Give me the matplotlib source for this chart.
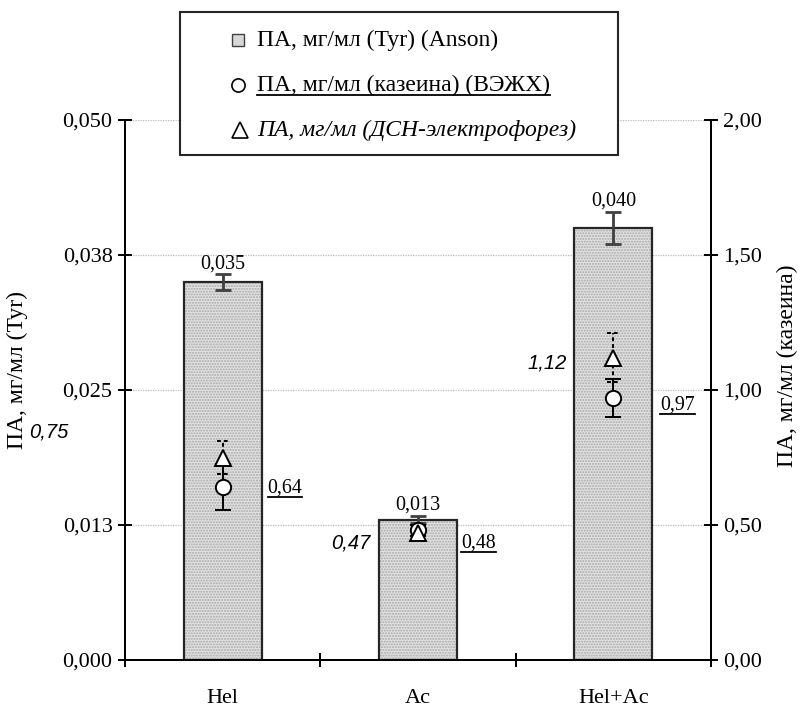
import matplotlib
matplotlib.use("Agg")
import matplotlib.pyplot as plt
from matplotlib.patches import Rectangle
from matplotlib.lines import Line2D
from matplotlib.ticker import FixedLocator, FixedFormatter, FuncFormatter

# ---- data ----
categories = ["Hel", "Ac", "Hel+Ac"]
tyr_values = [0.035, 0.013, 0.040]          # ПА, мг/мл (Tyr) (Anson)
tyr_errors = [0.0007, 0.0003, 0.0015]
casein_values = [0.64, 0.48, 0.97]          # ПА, мг/мл (казеина) (ВЭЖХ)
casein_errors = [0.085, 0.02, 0.07]
sds_values = [0.75, 0.47, 1.12]             # ПА, мг/мл (ДСН-электрофорез)
sds_errors = [0.06, 0.02, 0.09]
left_ticks = [0.0, 0.0125, 0.025, 0.0375, 0.05]
left_tick_labels = ["0,000", "0,013", "0,025", "0,038", "0,050"]
right_ticks = [0.0, 0.5, 1.0, 1.5, 2.0]

SERIF = ["Liberation Serif", "DejaVu Serif"]
SANS = ["Liberation Sans", "DejaVu Sans"]
plt.rcParams["font.family"] = SERIF

W, H = 806, 709
fig = plt.figure(figsize=(W / 100, H / 100), dpi=100)
L, R, B, T = 125, 711, 660, 120
ax = fig.add_axes([L / W, 1 - B / H, (R - L) / W, (B - T) / H])
ax2 = ax.twinx()

x = [i + 0.5 for i in range(len(categories))]
bw = 0.4

# bars: dotted grey fill + dark outline
ax.bar(x, tyr_values, width=bw, color="#e2e2e2", hatch="......",
       edgecolor="#a8a8a8", linewidth=0, zorder=2)
ax.bar(x, tyr_values, width=bw, fill=False, edgecolor="#262626",
       linewidth=1.6, zorder=3)
ax.errorbar(x, tyr_values, yerr=tyr_errors, fmt="none", ecolor="#404040",
            elinewidth=2.0, capsize=6, capthick=2.0, zorder=4)

for xi, v, e in zip(x, tyr_values, tyr_errors):
    ax.annotate(f"{v:.3f}".replace(".", ","), (xi, v + e),
                xytext=(0, 1), textcoords="offset points",
                ha="center", va="bottom", fontsize=14.5, fontfamily=SERIF,
                zorder=5)

ax.set_xlim(0, 3)
ax.set_ylim(0, 0.05)
ax.yaxis.set_major_locator(FixedLocator(left_ticks))
ax.yaxis.set_major_formatter(FixedFormatter(left_tick_labels))
ax.set_xticks([0, 1, 2, 3])
ax.set_xticklabels([])
ax.set_xticks(x, minor=True)
ax.set_xticklabels(categories, minor=True)
ax.tick_params(axis="x", which="minor", length=0, pad=21, labelsize=16)
ax.tick_params(axis="x", which="major", direction="inout", length=10, width=1.4)
ax.tick_params(axis="y", direction="inout", length=10, width=1.4, labelsize=16,
               pad=4)
ax.grid(axis="y", color="#bdbdbd", linestyle=(0, (1, 1)), linewidth=0.9)
ax.set_axisbelow(True)

for s in ("top",):
    ax.spines[s].set_visible(False)
    ax2.spines[s].set_visible(False)
for s in ("left", "bottom", "right"):
    ax.spines[s].set_linewidth(1.4)
    ax2.spines[s].set_linewidth(1.4)

ax2.set_ylim(0, 2)
ax2.yaxis.set_major_locator(FixedLocator(right_ticks))
ax2.yaxis.set_major_formatter(FuncFormatter(lambda v, p: f"{v:.2f}".replace(".", ",")))
ax2.tick_params(axis="y", direction="inout", length=10, width=1.4, labelsize=16,
                pad=4)

# casein (HPLC) points, solid error bars
ax2.errorbar(x, casein_values, yerr=casein_errors, fmt="o", color="black",
             mfc="white", mec="black", mew=1.4, ms=11, ecolor="black",
             elinewidth=1.4, capsize=6, capthick=1.4, zorder=4)
# SDS-electrophoresis points, dashed error bars
sds_lo = [v - e for v, e in zip(sds_values, sds_errors)]
sds_hi = [v + e for v, e in zip(sds_values, sds_errors)]
ax2.vlines(x, sds_lo, sds_hi, colors="black", linestyles=(0, (2, 1.5)),
           linewidth=1.4, zorder=4)
ax2.hlines(sds_lo + sds_hi, [xi - 0.03 for xi in x] * 2,
           [xi + 0.03 for xi in x] * 2, colors="black",
           linestyles=(0, (2, 1.5)), linewidth=1.4, zorder=4)
ax2.plot(x, sds_values, linestyle="none", marker="^", ms=12, mfc="white",
         mec="black", mew=1.4, zorder=5)

# value labels for points (offsets in pixels)
sds_offsets = [(-174, 25), (-67, -10), (-66, -5)]
casein_offsets = [(45, -1), (43, -13), (47, -7)]
for xi, v, (dx, dy) in zip(x, sds_values, sds_offsets):
    ax2.annotate(f"{v:.2f}".replace(".", ","), (xi, v), xytext=(dx, dy),
                 textcoords="offset pixels", ha="center", va="center",
                 fontsize=14.5, fontstyle="italic", fontfamily=SANS)
casein_texts = []
for xi, v, (dx, dy) in zip(x, casein_values, casein_offsets):
    t = ax2.annotate(f"{v:.2f}".replace(".", ","), (xi, v), xytext=(dx, dy),
                     textcoords="offset pixels", ha="left", va="center",
                     fontsize=14.3, fontfamily=SERIF)
    casein_texts.append(t)

ax.set_ylabel("ПА, мг/мл (Tyr)", fontsize=17)
ax2.set_ylabel("ПА, мг/мл (казеина)", fontsize=17)
ax.yaxis.set_label_coords(-97 / (R - L), (B - 370) / (B - T))
ax2.yaxis.set_label_coords(1 + 66 / (R - L), (B - 366) / (B - T))

# legend box
lx0, ly0, lx1, ly1 = 180, 12, 618, 155
fig.patches.append(Rectangle((lx0 / W, 1 - ly1 / H), (lx1 - lx0) / W,
                             (ly1 - ly0) / H, transform=fig.transFigure,
                             facecolor="white", edgecolor="#262626",
                             linewidth=1.5, zorder=10))
rows = [40, 85, 130]
mx = 238
fig.patches.append(Rectangle(((mx - 6) / W, 1 - (rows[0] + 6) / H), 12 / W, 12 / H,
                             transform=fig.transFigure, facecolor="#d8d8d8",
                             edgecolor="#404040", linewidth=1.0, zorder=11))
fig.lines.append(Line2D([mx / W], [1 - rows[1] / H], transform=fig.transFigure,
                        marker="o", ms=9.5, mfc="white", mec="black", mew=1.2,
                        zorder=11))
fig.lines.append(Line2D([(mx + 2) / W], [1 - rows[2] / H], transform=fig.transFigure,
                        marker="^", ms=11.5, mfc="white", mec="black", mew=1.2,
                        zorder=11))
legend_labels = ["ПА, мг/мл (Tyr) (Anson)", "ПА, мг/мл (казеина) (ВЭЖХ)",
                 "ПА, мг/мл (ДСН-электрофорез)"]
styles = ["normal", "normal", "italic"]
legend_texts = []
for lab, st, ry in zip(legend_labels, styles, rows):
    t = fig.text(257 / W, 1 - ry / H, lab, ha="left", va="center", fontsize=17,
                 fontstyle=st, zorder=12)
    legend_texts.append(t)

# underline the HPLC-related texts
fig.canvas.draw()
renderer = fig.canvas.get_renderer()
for t in [legend_texts[1]] + casein_texts:
    bb = t.get_window_extent(renderer)
    yline = bb.y0 + 1
    fig.lines.append(Line2D([bb.x0 / W, bb.x1 / W], [yline / H, yline / H],
                            transform=fig.transFigure, color="black",
                            linewidth=1.3, zorder=12))

fig.savefig("out.png", dpi=100)
